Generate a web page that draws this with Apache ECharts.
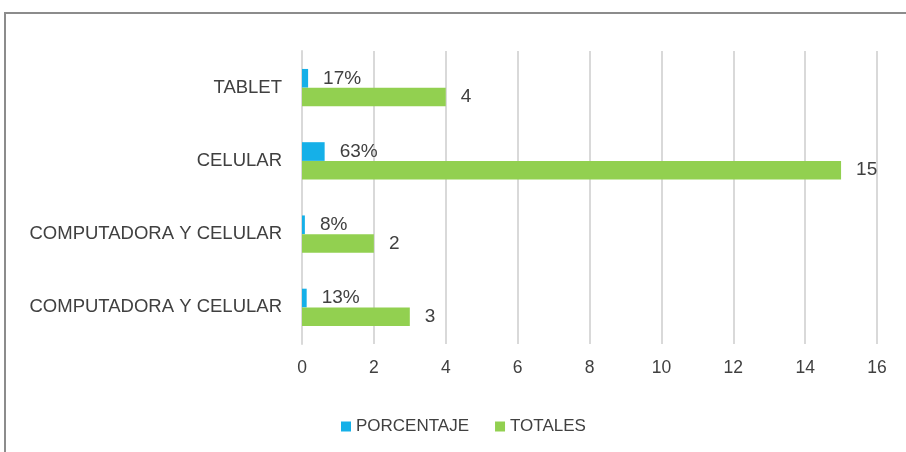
<!DOCTYPE html>
<html>
<head>
<meta charset="utf-8">
<script src="https://cdn.jsdelivr.net/npm/echarts@6/dist/echarts.min.js"></script>
<style>
  html, body { margin: 0; padding: 0; background: #fff; }
  #main { width: 906px; height: 452px; }
</style>
</head>
<body>
<div id="main"></div>
<script>
// categories top to bottom
const categories = ['TABLET', 'CELULAR', 'COMPUTADORA Y CELULAR', 'COMPUTADORA Y CELULAR'];
const porcentaje = [0.17, 0.63, 0.08, 0.13];
const porcentajeLabels = ['17%', '63%', '8%', '13%'];
const totales = [4, 15, 2, 3];
const xTicks = [0, 2, 4, 6, 8, 10, 12, 14, 16];

const font = "'Liberation Sans', Arial, sans-serif";
const textColor = '#404040';

const chart = echarts.init(document.getElementById('main'));

const option = {
  animation: false,
  graphic: [{
    type: 'rect',
    shape: { x: 5, y: 13, width: 1000, height: 500 },
    style: { fill: 'none', stroke: '#8c8c8c', lineWidth: 2 },
    silent: true
  }],
  legend: {
    data: ['PORCENTAJE', 'TOTALES'],
    left: 336,
    top: 413,
    itemWidth: 10,
    itemHeight: 10,
    itemGap: 26,
    icon: 'rect',
    textStyle: { color: textColor, fontSize: 17, fontFamily: font }
  },
  grid: { left: 302, right: 29, top: 51, bottom: 108, containLabel: false },
  xAxis: {
    type: 'value',
    min: xTicks[0],
    max: xTicks[xTicks.length - 1],
    interval: 2,
    axisLine: { show: false },
    axisTick: { show: false },
    splitLine: { lineStyle: { color: '#d9d9d9', width: 2 } },
    axisLabel: { color: textColor, fontSize: 17.5, fontFamily: font, margin: 15 }
  },
  yAxis: {
    type: 'category',
    inverse: true,
    data: categories,
    axisLine: { show: true, lineStyle: { color: '#d9d9d9', width: 2 } },
    axisTick: { show: false },
    axisLabel: { color: textColor, fontSize: 18.5, fontFamily: font, margin: 20 }
  },
  series: [
    {
      name: 'PORCENTAJE',
      type: 'bar',
      data: porcentaje,
      barGap: '0%',
      barCategoryGap: '49%',
      itemStyle: { color: '#15b0e8' },
      label: {
        show: true,
        position: 'right',
        distance: 15,
        color: textColor,
        fontSize: 19,
        fontFamily: font,
        formatter: p => porcentajeLabels[p.dataIndex]
      }
    },
    {
      name: 'TOTALES',
      type: 'bar',
      data: totales,
      itemStyle: { color: '#92d050' },
      label: {
        show: true,
        position: 'right',
        distance: 15,
        color: textColor,
        fontSize: 19,
        fontFamily: font
      }
    }
  ]
};

chart.setOption(option);
</script>
</body>
</html>
